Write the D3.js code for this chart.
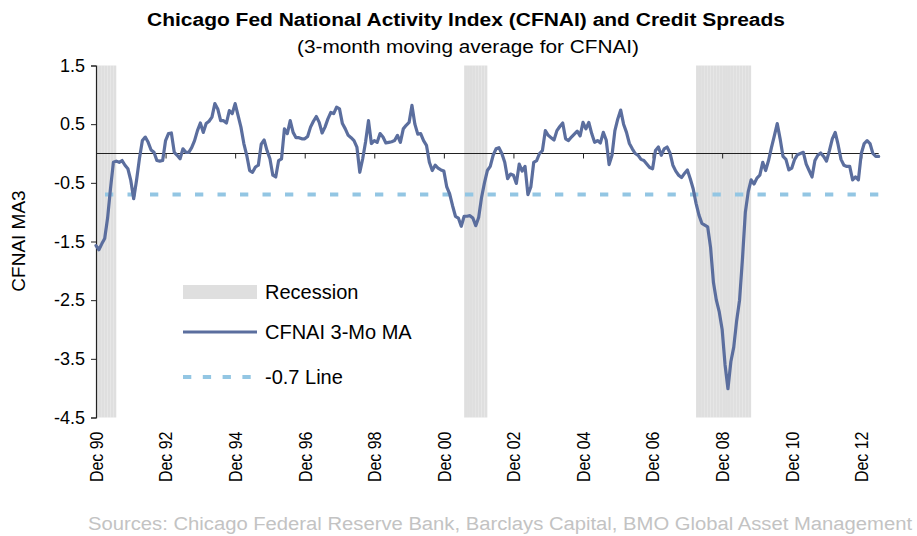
<!DOCTYPE html>
<html>
<head>
<meta charset="utf-8">
<script src="https://cdn.jsdelivr.net/npm/d3@7"></script>
<style>
  html, body { margin: 0; padding: 0; background: #fff; }
  svg { display: block; font-family: "Liberation Sans", Arial, sans-serif; }
</style>
</head>
<body>
<svg id="chart" width="917" height="536"></svg>
<script>
// ---------------- DATA ----------------
const titleText = "Chicago Fed National Activity Index (CFNAI) and Credit Spreads";
const subtitleText = "(3-month moving average for CFNAI)";
const yAxisLabel = "CFNAI MA3";
const sourceText = "Sources: Chicago Federal Reserve Bank,  Barclays Capital, BMO Global Asset Management";

// first observation month of the series
const seriesStart = "1990-12";

// CFNAI 3-month moving average, monthly from Dec 1990
const cfnaiMA3 = [
  -1.57, -1.64, -1.54, -1.45, -1.10, -0.60, -0.15, -0.13, -0.15, -0.12, -0.20, -0.26,
  -0.46, -0.77, -0.45, -0.08,  0.22,  0.28,  0.19,  0.06,  0.02, -0.12, -0.13, -0.12,
   0.22,  0.34,  0.35,  0.02, -0.03, -0.09,  0.08,  0.02,  0.02,  0.10,  0.22,  0.39,
   0.52,  0.36,  0.51,  0.55,  0.62,  0.85,  0.76,  0.56,  0.56,  0.52,  0.73,  0.68,
   0.85,  0.65,  0.45,  0.17, -0.03, -0.29, -0.32, -0.23, -0.20,  0.16,  0.23,  0.05,
  -0.09, -0.37, -0.40, -0.12, -0.09,  0.42,  0.34,  0.56,  0.36,  0.27,  0.27,  0.25,
   0.25,  0.29,  0.45,  0.55,  0.63,  0.53,  0.35,  0.45,  0.59,  0.70,  0.68,  0.79,
   0.76,  0.51,  0.42,  0.31,  0.27,  0.22,  0.11, -0.32, -0.09,  0.20,  0.56,  0.17,
   0.22,  0.19,  0.34,  0.28,  0.18,  0.19,  0.20,  0.22,  0.31,  0.19,  0.42,  0.48,
   0.53,  0.82,  0.50,  0.33,  0.34,  0.22,  0.14, -0.15, -0.29, -0.20, -0.25, -0.28,
  -0.30, -0.57, -0.69, -0.89, -1.07, -1.10, -1.24, -1.07, -1.07, -1.06, -1.10, -1.23,
  -1.09, -0.75, -0.50, -0.29, -0.22, -0.03,  0.08,  0.10,  0.00, -0.15, -0.43, -0.35,
  -0.37, -0.51, -0.18, -0.30, -0.22, -0.70, -0.57, -0.15, -0.12,  0.00,  0.05,  0.39,
   0.31,  0.27,  0.23,  0.39,  0.46,  0.52,  0.25,  0.22,  0.28,  0.33,  0.38,  0.30,
   0.53,  0.42,  0.53,  0.34,  0.19,  0.22,  0.18,  0.36,  0.23, -0.19, -0.03,  0.39,
   0.59,  0.74,  0.50,  0.36,  0.17,  0.08,  0.00, -0.03, -0.10, -0.12, -0.18, -0.24,
  -0.26,  0.05,  0.11, -0.03,  0.08,  0.11,  0.01, -0.20, -0.30, -0.37, -0.41, -0.34,
  -0.28, -0.43, -0.60, -0.85, -1.05, -1.19, -1.22, -1.25, -1.60, -2.20, -2.50, -2.70,
  -3.00, -3.60, -4.01, -3.55, -3.30, -2.85, -2.50, -1.80, -1.00, -0.65, -0.45, -0.52,
  -0.42, -0.37, -0.15, -0.29, -0.12,  0.10,  0.30,  0.51,  0.25, -0.05, -0.10, -0.28,
  -0.25, -0.10, -0.02,  0.00,  0.02, -0.18, -0.29, -0.40, -0.12, -0.03,  0.01, -0.05,
  -0.13,  0.05,  0.25,  0.36,  0.15, -0.10, -0.20, -0.22, -0.22, -0.45, -0.40, -0.45,
   0.00,  0.17,  0.22,  0.17,  0.00, -0.05, -0.05
];

// shaded recession periods [first month, month after last]
const recessionStarts = ["1990-12", "2001-07", "2008-03"];
const recessionEnds   = ["1991-07", "2002-03", "2009-10"];

const thresholdValue = -0.7;

const yTickValues = [1.5, 0.5, -0.5, -1.5, -2.5, -3.5, -4.5];
const xTickMonths = ["1990-12", "1992-12", "1994-12", "1996-12", "1998-12", "2000-12",
                     "2002-12", "2004-12", "2006-12", "2008-12", "2010-12", "2012-12"];
const xTickLabels = ["Dec 90", "Dec 92", "Dec 94", "Dec 96", "Dec 98", "Dec 00",
                     "Dec 02", "Dec 04", "Dec 06", "Dec 08", "Dec 10", "Dec 12"];

const legendLabels = ["Recession", "CFNAI 3-Mo MA", "-0.7 Line"];

// ---------------- LAYOUT ----------------
const svg = d3.select("#chart");
const plot = { left: 96, right: 861.3, top: 65.5, bottom: 417.5 };
const colors = { band: "#dfdfdf", line: "#5b6e9e", dash: "#93c6e3", axis: "#222", source: "#c3c3c3" };

function monthIndex(s) {
  const [y0, m0] = seriesStart.split("-").map(Number);
  const [y, m] = s.split("-").map(Number);
  return (y - y0) * 12 + (m - m0);
}

const x = d3.scaleLinear()
  .domain([monthIndex("1990-12"), monthIndex("2012-12")])
  .range([plot.left, plot.right]);
const y = d3.scaleLinear().domain([-4.5, 1.5]).range([plot.bottom, plot.top]);

const series = cfnaiMA3.map((v, i) => ({ i, v }));

// ---- recession bands (one column per month) ----
const bandMonths = [];
recessionStarts.forEach((s, k) => {
  for (let m = monthIndex(s); m < monthIndex(recessionEnds[k]); m++) bandMonths.push(m);
});
svg.append("g").selectAll("rect").data(bandMonths).join("rect")
  .attr("x", d => x(d))
  .attr("width", d => x(d + 1) - x(d))
  .attr("y", y(1.5))
  .attr("height", y(-4.5) - y(1.5))
  .attr("fill", colors.band);

// ---- y axis ----
const yAxis = d3.axisLeft(y).tickValues(yTickValues).tickSize(5).tickPadding(6)
  .tickFormat(d3.format(".1f"));
const yg = svg.append("g").attr("transform", `translate(${plot.left},0)`).call(yAxis);
yg.select(".domain").attr("stroke", colors.axis).attr("stroke-width", 1.2);
yg.selectAll(".tick line").attr("stroke", colors.axis);
yg.selectAll("text").attr("font-size", 18).attr("fill", "#000")
  .attr("font-family", "'Liberation Sans', Arial, sans-serif")
  .text(d => d3.format(".1f")(d).replace("−", "-"));

// ---- x axis on the zero line ----
const xEnd = x(cfnaiMA3.length - 1);
const xAxis = d3.axisBottom(x)
  .tickValues(xTickMonths.map(monthIndex))
  .tickSize(5)
  .tickFormat("");
const xg = svg.append("g").attr("transform", `translate(0,${y(0)})`).call(xAxis);
xg.select(".domain").remove();
xg.selectAll(".tick line").attr("stroke", colors.axis);
svg.append("line")
  .attr("x1", plot.left).attr("x2", xEnd)
  .attr("y1", y(0)).attr("y2", y(0))
  .attr("stroke", colors.axis).attr("stroke-width", 1.2);

// x tick labels at bottom, rotated and slightly condensed
svg.append("g").selectAll("text").data(xTickMonths).join("text")
  .attr("transform", d => `translate(${x(monthIndex(d))},${plot.bottom + 14}) rotate(-90) scale(0.84,1)`)
  .attr("text-anchor", "end")
  .attr("dy", "0.36em")
  .attr("font-size", 19)
  .attr("fill", "#000")
  .text((d, i) => xTickLabels[i]);

// ---- -0.7 dashed line ----
svg.append("line")
  .attr("x1", plot.left).attr("x2", xEnd)
  .attr("y1", y(thresholdValue)).attr("y2", y(thresholdValue))
  .attr("stroke", colors.dash).attr("stroke-width", 4)
  .attr("stroke-dasharray", "8.3,14.2")
  .attr("stroke-dashoffset", 13.5);

// ---- CFNAI line ----
const line = d3.line().x(d => x(d.i)).y(d => y(d.v));
svg.append("path").datum(series)
  .attr("d", line)
  .attr("fill", "none")
  .attr("stroke", colors.line)
  .attr("stroke-width", 3.2)
  .attr("stroke-linejoin", "round")
  .attr("stroke-linecap", "round");

// ---- titles ----
svg.append("text").attr("x", 466).attr("y", 26).attr("text-anchor", "middle")
  .attr("font-size", 18).attr("font-weight", "bold")
  .attr("textLength", 638).attr("lengthAdjust", "spacingAndGlyphs")
  .text(titleText);
svg.append("text").attr("x", 468).attr("y", 53).attr("text-anchor", "middle")
  .attr("font-size", 17.5)
  .attr("textLength", 342).attr("lengthAdjust", "spacingAndGlyphs")
  .text(subtitleText);

// y axis title
svg.append("text")
  .attr("transform", `translate(25,${241}) rotate(-90)`)
  .attr("text-anchor", "middle")
  .attr("font-size", 19)
  .text(yAxisLabel);

// ---- legend ----
const lg = svg.append("g");
const legendY = [292, 332, 377];
const swX0 = 183, swX1 = 257, txtX = 265;
lg.append("rect").attr("x", swX0).attr("y", legendY[0] - 7).attr("width", swX1 - swX0).attr("height", 14)
  .attr("fill", colors.band);
lg.append("line").attr("x1", swX0).attr("x2", swX1).attr("y1", legendY[1]).attr("y2", legendY[1])
  .attr("stroke", colors.line).attr("stroke-width", 3.2);
lg.append("line").attr("x1", swX0).attr("x2", swX1).attr("y1", legendY[2]).attr("y2", legendY[2])
  .attr("stroke", colors.dash).attr("stroke-width", 4).attr("stroke-dasharray", "8.3,11.5");
lg.selectAll("text").data(legendLabels).join("text")
  .attr("x", txtX).attr("y", (d, i) => legendY[i]).attr("dy", "0.35em")
  .attr("font-size", 20)
  .text(d => d);

// ---- source ----
svg.append("text").attr("x", 912).attr("y", 530).attr("text-anchor", "end")
  .attr("font-size", 18).attr("fill", colors.source)
  .attr("textLength", 824).attr("lengthAdjust", "spacingAndGlyphs")
  .text(sourceText);
</script>
</body>
</html>
